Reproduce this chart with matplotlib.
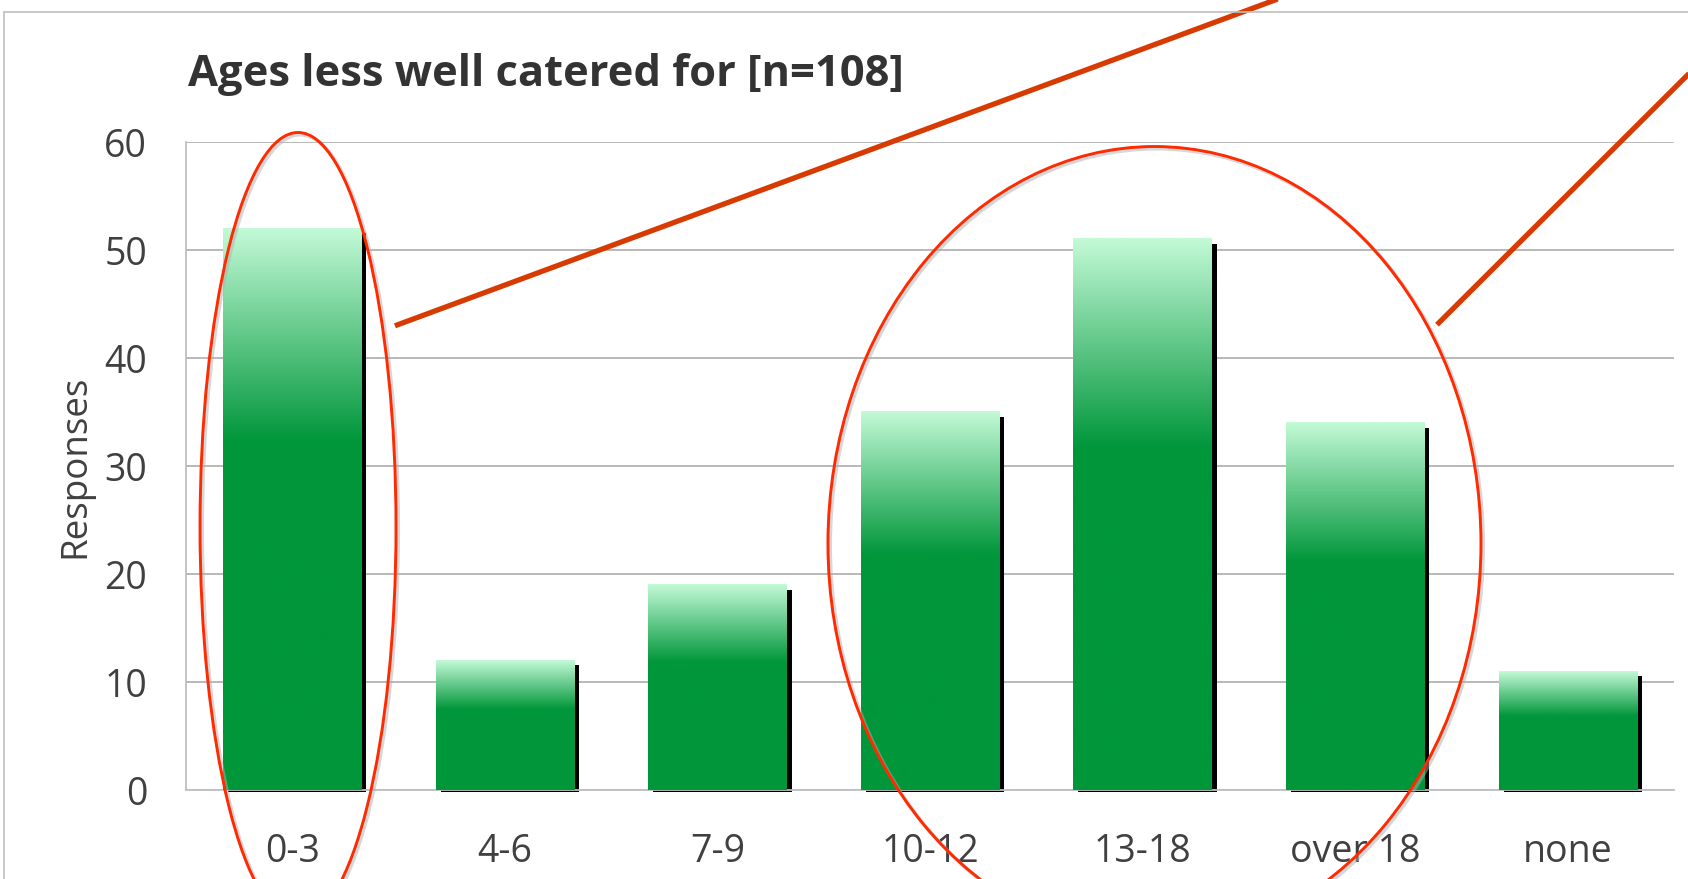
import numpy as np
import matplotlib
matplotlib.use("Agg")
import matplotlib.pyplot as plt
import matplotlib.patheffects as pe
from matplotlib.patches import Ellipse, Rectangle
from matplotlib.colors import to_rgb

categories = ["0-3", "4-6", "7-9", "10-12", "13-18", "over 18", "none"]
responses = [52, 12, 19, 35, 51, 34, 11]
yticks = [0, 10, 20, 30, 40, 50, 60]

plt.rcParams["font.family"] = ["Open Sans", "DejaVu Sans"]

W, H = 1688, 879
fig = plt.figure(figsize=(W / 100, H / 100 + 0.004), dpi=100)
ax = fig.add_axes([186 / W, 89 / H, 1488 / W, 648 / H])

x = np.arange(len(categories))
vals = np.array(responses, dtype=float)
width = 0.65
px = 7 / 1488  # one pixel in x data units
py = 60 / 648  # one pixel in y data units

# black drop shadow behind each bar
ax.bar(x + 5 * px, vals - 3 * py, width, bottom=-2 * py,
       color="black", zorder=2, clip_on=False)

# gradient bars: light mint at the top fading to solid green
light = np.array(to_rgb("#c3fad7"))
green = np.array(to_rgb("#00963a"))
t = np.linspace(0, 1, 300)
frac = np.clip(t / 0.38, 0, 1)[:, None]
img = (light * (1 - frac) + green * frac)[:, None, :]

bars = ax.bar(x, vals, width, color="none", edgecolor="none", zorder=3)
for rect in bars:
    x0 = rect.get_x()
    ax.imshow(img, extent=[x0, x0 + rect.get_width(), 0, rect.get_height()],
              aspect="auto", zorder=3, interpolation="bilinear")

ax.set_xlim(-0.5, len(categories) - 0.5)
ax.set_ylim(0, 60)
ax.set_xticks(x)
ax.set_xticklabels(categories)
ax.set_yticks(yticks)
ax.yaxis.grid(True, color="#a6a6a6", lw=1.1)
ax.set_axisbelow(True)
for side in ["top", "right"]:
    ax.spines[side].set_visible(False)
for side in ["left", "bottom"]:
    ax.spines[side].set_color("#bfbfbf")
    ax.spines[side].set_linewidth(1.3)
ax.tick_params(axis="y", labelsize=27, pad=28, colors="#404040", length=0)
ax.tick_params(axis="x", labelsize=27, pad=31, colors="#404040", length=0)
ax.set_ylabel("Responses", fontsize=26.5, color="#404040")
ax.yaxis.set_label_coords(-0.062, 0.5)

# red highlight ellipses
shadow = [pe.Stroke(offset=(1.5, -1.5), foreground="#b0b0b0", linewidth=2.8, alpha=0.5),
          pe.Normal()]
for cx, cy, ew, eh in [(0.027, 24.35, 0.922, 73.0), (4.056, 22.8, 3.072, 73.5)]:
    ax.add_patch(Ellipse((cx, cy), ew, eh, fill=False, ec="#ff2a00", lw=2.1,
                         clip_on=False, zorder=6, path_effects=shadow))

# pointer lines
ax.plot([0.483, 4.8], [42.96, 74.4], color="#d83b01", lw=3.8,
        solid_capstyle="butt", clip_on=False, zorder=6)
ax.plot([5.385, 6.8], [43.06, 70.8], color="#d83b01", lw=3.8,
        solid_capstyle="butt", clip_on=False, zorder=6)

fig.text(188 / W, 1 - 86 / H, "Ages less well catered for [n=108]",
         fontsize=31.3, weight="bold", color="#333333", va="baseline")

fig.add_artist(Rectangle((4 / W, -0.1), 1.2, (H - 12) / H + 0.1,
                         transform=fig.transFigure, fill=False,
                         ec="#bfbfbf", lw=1.2))

fig.savefig("out.png", dpi=100)
